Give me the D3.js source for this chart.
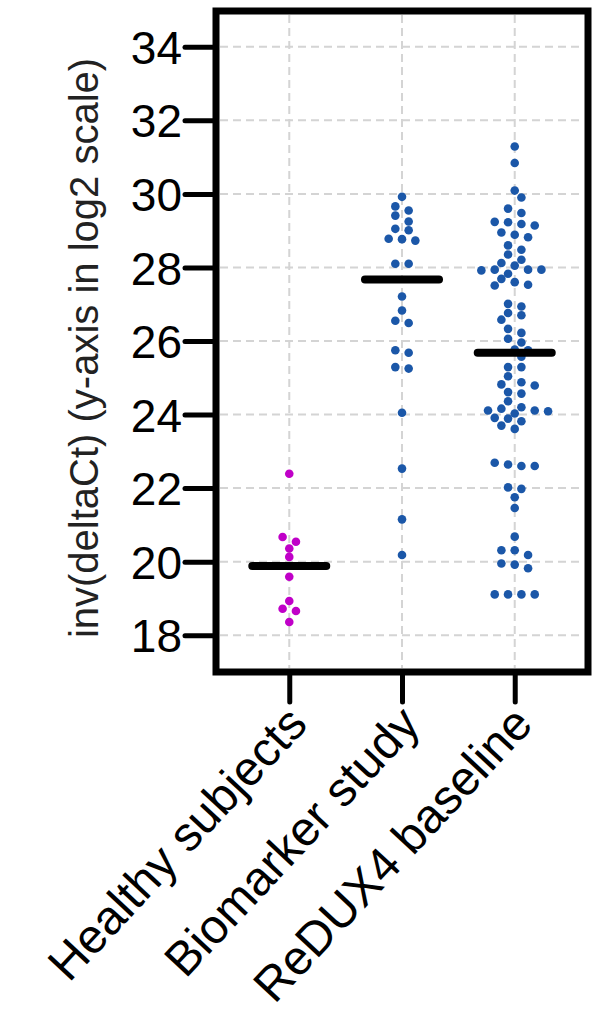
<!DOCTYPE html>
<html>
<head>
<meta charset="utf-8">
<title></title>
<style>
  body { margin: 0; background: #fff; }
  svg text { font-family: "Liberation Sans", Arial, sans-serif; }
  .grid line { stroke: #d4d4d4; stroke-width: 2; stroke-dasharray: 8,5; }
  .axis line { stroke: #000; stroke-width: 5; stroke-linecap: round; }
  .axis path { display: none; }
</style>
</head>
<body>
<script src="https://cdnjs.cloudflare.com/ajax/libs/d3/7.8.5/d3.min.js"></script>
<script>
// data
var categories = ["Healthy subjects", "Biomarker study", "ReDUX4 baseline"];
var healthy = [22.39, 20.67, 20.54, 20.36, 20.13, 19.59, 18.93, 18.72, 18.66, 18.36];
var biomarker = [29.92, 29.66, 29.55, 29.41, 29.25, 29.05, 29.01, 28.78, 28.77, 28.73,
  28.10, 28.10, 27.21, 26.83, 26.55, 26.49, 25.75, 25.68, 25.29, 25.25,
  24.05, 22.53, 21.15, 20.18];
var redux4 = [31.29, 30.84, 30.09, 29.90, 29.60, 29.48, 29.24, 29.23, 29.18, 29.14,
  28.95, 28.89, 28.82, 28.60, 28.48, 28.35, 28.21, 28.12, 28.05, 27.94,
  27.94, 27.94, 27.92, 27.83, 27.69, 27.60, 27.53, 27.51, 27.01, 26.94,
  26.76, 26.70, 26.58, 26.33, 26.22, 26.06, 25.96, 25.77, 25.75, 25.57,
  25.29, 25.29, 25.04, 24.88, 24.82, 24.79, 24.61, 24.57, 24.36, 24.20,
  24.16, 24.11, 24.11, 24.09, 24.03, 23.91, 23.89, 23.82, 23.70, 23.61,
  22.69, 22.64, 22.60, 22.60, 22.02, 21.98, 21.75, 21.46, 20.68, 20.31,
  20.31, 20.18, 19.95, 19.92, 19.82, 19.11, 19.11, 19.11, 19.11];
var medians = [19.88, 27.67, 25.68];
var yTicks = [18, 20, 22, 24, 26, 28, 30, 32, 34];
var groupColors = ["#c000c8", "#1b57a8", "#1b57a8"];
var yTitle = "inv(deltaCt) (y-axis in log2 scale)";

var groups = [healthy, biomarker, redux4];

var W = 605, H = 1020;
var x0 = 216, x1 = 588, yTop = 11, yBot = 672;

var svg = d3.select("body").append("svg")
  .attr("width", W)
  .attr("height", H);

var y = d3.scaleLinear().domain([17, 35]).range([yBot, yTop - 1]);
var x = d3.scalePoint().domain(categories).range([x0, x1]).padding(0.65);

// grid
var grid = svg.append("g").attr("class", "grid");
grid.selectAll(".h").data(yTicks).enter().append("line")
  .attr("x1", x0 + 4).attr("x2", x1 - 4)
  .attr("y1", function(d){ return y(d); })
  .attr("y2", function(d){ return y(d); });
grid.selectAll(".v").data(categories).enter().append("line")
  .attr("x1", function(d){ return x(d); })
  .attr("x2", function(d){ return x(d); })
  .attr("y1", yTop + 4).attr("y2", yBot - 4);

// y axis
var yAxis = svg.append("g")
  .attr("class", "axis")
  .attr("transform", "translate(" + x0 + ",0)")
  .call(d3.axisLeft(y).tickValues(yTicks).tickSize(31).tickPadding(3));
yAxis.selectAll("text")
  .attr("font-size", "46px")
  .attr("fill", "#000")
  .attr("dy", "0.36em");

// x axis
var xAxis = svg.append("g")
  .attr("class", "axis")
  .attr("transform", "translate(0," + yBot + ")")
  .call(d3.axisBottom(x).tickSize(30));
xAxis.selectAll("text").remove();

svg.append("g").selectAll("text")
  .data(categories).enter().append("text")
  .attr("transform", function(d){ return "translate(" + (x(d) + 20) + "," + (yBot + 54) + ") rotate(-47)"; })
  .attr("text-anchor", "end")
  .attr("font-size", "48px")
  .attr("fill", "#000")
  .text(function(d){ return d; });

// frame
svg.append("rect")
  .attr("x", x0).attr("y", yTop)
  .attr("width", x1 - x0).attr("height", yBot - yTop)
  .attr("fill", "none")
  .attr("stroke", "#000")
  .attr("stroke-width", 7);

// y title
svg.append("text")
  .attr("transform", "translate(98," + 348 + ") rotate(-90)")
  .attr("text-anchor", "middle")
  .attr("font-size", "40px")
  .attr("fill", "#222")
  .text(yTitle);

// swarm layout: dots keep their value, spread sideways in half-dot steps
var R = 4.3, STEP = 6.67, MIND = 8.3;
function swarm(values) {
  var pts = values.map(function(v){ return { v: v, py: y(v), dx: 0 }; })
    .sort(function(a, b){ return a.py - b.py; });
  var placed = [];
  function hits(dx, py) {
    return placed.some(function(p){
      var a = p.dx - dx, b = p.py - py;
      return Math.sqrt(a * a + b * b) < MIND;
    });
  }
  var i = 0;
  while (i < pts.length) {
    var j = i + 1;
    while (j < pts.length && pts[j].py - pts[i].py < 6) j++;
    var grp = pts.slice(i, j), n = grp.length, done = false;
    [0, STEP, -STEP].forEach(function(s){
      if (done) return;
      var offs = grp.map(function(p, k){ return (k - (n - 1) / 2) * 2 * STEP + s; });
      if (!grp.some(function(p, k){ return hits(offs[k], p.py); })) {
        grp.forEach(function(p, k){ p.dx = offs[k]; placed.push(p); });
        done = true;
      }
    });
    if (!done) {
      grp.forEach(function(p){
        for (var m = 0; m < 40; m++) {
          var c = (m % 2 ? 1 : -1) * Math.ceil(m / 2) * STEP;
          if (!hits(c, p.py)) { p.dx = c; break; }
        }
        placed.push(p);
      });
    }
    i = j;
  }
  return pts;
}

groups.forEach(function(vals, gi) {
  var cx = x(categories[gi]);
  svg.append("g").selectAll("circle")
    .data(swarm(vals)).enter().append("circle")
    .attr("cx", function(d){ return cx + d.dx; })
    .attr("cy", function(d){ return d.py; })
    .attr("r", R)
    .attr("fill", groupColors[gi]);
});

// median bars
svg.append("g").selectAll("line")
  .data(medians).enter().append("line")
  .attr("x1", function(d, i){ return x(categories[i]) - 37; })
  .attr("x2", function(d, i){ return x(categories[i]) + 37; })
  .attr("y1", function(d){ return y(d); })
  .attr("y2", function(d){ return y(d); })
  .attr("stroke", "#000")
  .attr("stroke-width", 8)
  .attr("stroke-linecap", "round");
</script>
</body>
</html>
